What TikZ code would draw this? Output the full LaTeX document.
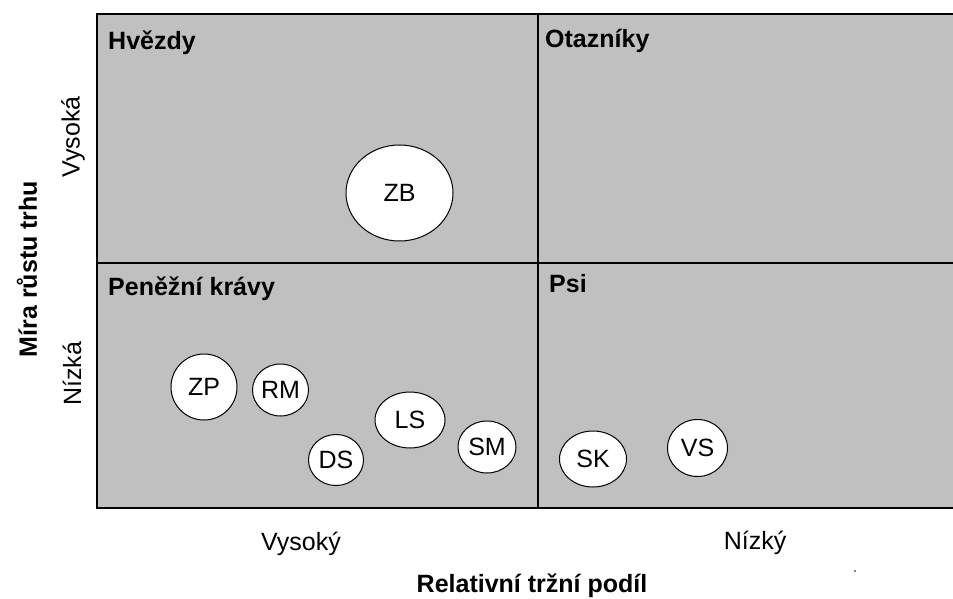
\documentclass[tikz,border=0pt]{standalone}
\usepackage{fontspec}
\setmainfont{Liberation Sans}
\usetikzlibrary{shapes.geometric}
\definecolor{quadgray}{RGB}{192,192,192}
\tikzset{
  title/.style={font=\fontsize{25}{28}\selectfont\bfseries, anchor=base west, inner sep=0pt},
  axislab/.style={font=\fontsize{25}{28}\selectfont, inner sep=0pt},
  axistitle/.style={font=\fontsize{25}{28}\selectfont\bfseries, inner sep=0pt},
  bubble/.style={ellipse, draw=black, line width=1pt, fill=white, inner sep=0pt,
    font=\fontsize{25}{28}\selectfont},
  gridline/.style={line width=1.6pt, draw=black}
}
\begin{document}
\begin{tikzpicture}[x=1pt,y=-1pt]
\useasboundingbox (0,0) rectangle (953,599);
% background
\fill[quadgray] (97,14) rectangle (953,508);
\draw[gridline] (953,14) -- (97,14) -- (97,508) -- (953,508);
\draw[gridline] (538,14) -- (538,508);
\draw[gridline] (97,263) -- (953,263);
% quadrant titles
\node[title] (hv) at (108,50) {Hvězdy};
\node[title] (ot) at (545,48) {Otazníky};
\node[title] (pk) at (108,295) {Peněžní krávy};
\node[title] (psi) at (549,292) {Psi};
% bubbles
\node[bubble, minimum width=107, minimum height=96] (zb) at (399.5,193) {ZB};
\node[bubble, minimum width=66, minimum height=66] (zp) at (204,387) {ZP};
\node[bubble, minimum width=56, minimum height=52] (rm) at (280.5,390) {RM};
\node[bubble, minimum width=55, minimum height=51] (ds) at (336,460) {DS};
\node[bubble, minimum width=70, minimum height=56] (ls) at (410,420) {LS};
\node[bubble, minimum width=58, minimum height=52] (sm) at (487,447) {SM};
\node[bubble, minimum width=67, minimum height=56] (sk) at (593,459) {SK};
\node[bubble, minimum width=60, minimum height=57] (vs) at (697.5,448) {VS};
% axes labels
\node[axislab, anchor=base] (vysoky) at (301,550) {Vysoký};
\node[axislab, anchor=base] (nizky) at (755,549) {Nízký};
\node[axistitle, anchor=base] (rtp) at (532,592) {Relativní tržní podíl};
\node[axislab, rotate=90] (vysoka) at (73,137) {Vysoká};
\node[axislab, rotate=90] (nizka) at (72,374) {Nízká};
\node[axistitle, rotate=90] (mrt) at (27,269) {Míra růstu trhu};
% stray dot
\fill[gray] (854,570) rectangle (856,572);
\end{tikzpicture}
\end{document}
